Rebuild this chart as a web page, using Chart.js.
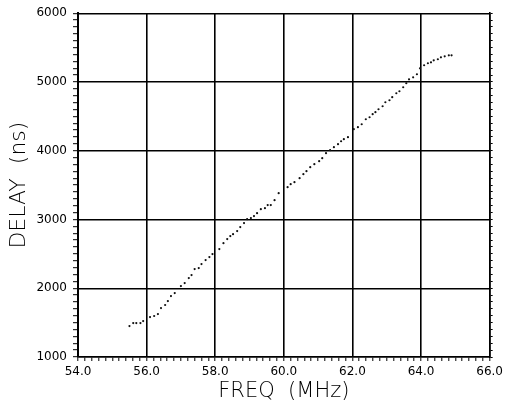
<!DOCTYPE html>
<html><head><meta charset="utf-8">
<script src="https://cdn.jsdelivr.net/npm/chart.js@4.4.0/dist/chart.umd.min.js"></script>
<style>html,body{margin:0;padding:0;background:#fff;}canvas{display:block;}</style>
</head><body>
<canvas id="c" width="507" height="406"></canvas>
<script>
const freqMHz = [55.50,55.61,55.70,55.82,55.90,56.10,56.22,56.33,56.42,56.54,56.62,56.71,56.82,57.00,57.11,57.23,57.31,57.40,57.52,57.60,57.72,57.83,57.92,58.12,58.24,58.35,58.44,58.52,58.64,58.73,58.84,58.93,59.04,59.13,59.22,59.33,59.45,59.53,59.62,59.73,59.85,60.11,60.20,60.31,60.46,60.57,60.66,60.77,60.89,61.03,61.12,61.23,61.35,61.46,61.58,61.67,61.75,61.87,62.04,62.16,62.27,62.39,62.50,62.59,62.67,62.76,62.88,62.96,63.08,63.16,63.28,63.37,63.48,63.57,63.65,63.77,63.88,63.97,64.09,64.20,64.29,64.37,64.49,64.58,64.69,64.81,64.89];
const delayNs = [1450,1494,1494,1494,1523,1581,1596,1625,1712,1756,1814,1886,1930,2032,2075,2148,2191,2279,2293,2351,2409,2453,2497,2569,2656,2715,2758,2787,2831,2889,2947,3005,3020,3049,3092,3150,3165,3209,3209,3281,3383,3470,3514,3543,3601,3659,3703,3761,3804,3848,3891,3964,4008,4051,4095,4138,4168,4197,4313,4342,4385,4458,4487,4531,4560,4603,4647,4705,4734,4778,4836,4865,4923,4981,5039,5068,5112,5199,5243,5272,5286,5315,5330,5359,5373,5388,5388];
const xTickLabels = ['54.0','56.0','58.0','60.0','62.0','64.0','66.0'];
const yTickLabels = ['1000','2000','3000','4000','5000','6000'];
const xTitle = 'FREQ  (MHz)';
const yTitle = 'DELAY  (ns)';

const points = freqMHz.map((f,i)=>({x:f,y:delayNs[i]}));
const tickFont = {family:'DejaVu Sans', size:12};
const xTitleFont = {family:'DejaVu Sans', size:21, weight:'200'};
const yTitleFont = {family:'DejaVu Sans', size:22, weight:'200'};

function xLabel(v){
  const s = (Math.round(v*10)/10).toFixed(1);
  return xTickLabels.includes(s) ? s : '';
}
function yLabel(v){
  const s = String(Math.round(v));
  return yTickLabels.includes(s) ? s : '';
}
function xMajor(ctx){ return ctx.tick && xLabel(ctx.tick.value) !== ''; }
function yMajor(ctx){ return ctx.tick && yLabel(ctx.tick.value) !== ''; }

new Chart(document.getElementById('c'), {
  type: 'scatter',
  data: { datasets: [{ data: points, pointRadius: 1.1, pointBorderWidth: 0, backgroundColor: '#111', showLine: false }] },
  options: {
    responsive: false, animation: false, devicePixelRatio: 1,
    layout: { padding: { top: 13, right: 0, left: 0, bottom: 0 } },
    plugins: { legend: { display: false }, tooltip: { enabled: false } },
    scales: {
      x: {
        type: 'linear', min: 54, max: 66,
        afterFit: s => { s.height = 49; },
        ticks: { stepSize: 0.2, autoSkip: false, maxRotation: 0, maxTicksLimit: 200, font: tickFont, color: '#000', padding: 4, callback: v => xLabel(v) },
        grid: { color: c => xMajor(c) ? '#000' : 'rgba(0,0,0,0)', lineWidth: 1.6, tickColor: '#000', tickLength: 4, tickWidth: 1 },
        border: { color: '#000', width: 1.6 },
        title: { display: true, text: xTitle, font: xTitleFont, color: '#000', padding: { top: 0, bottom: 2 } }
      },
      y: {
        type: 'linear', min: 1000, max: 6000,
        afterFit: s => { s.width = 78; },
        ticks: { stepSize: 100, autoSkip: false, maxTicksLimit: 200, font: tickFont, color: '#000', padding: 6, callback: v => yLabel(v) },
        grid: { color: c => yMajor(c) ? '#000' : 'rgba(0,0,0,0)', lineWidth: 1.4, tickColor: '#000', tickLength: 5, tickWidth: 1 },
        border: { color: '#000', width: 2 },
        title: { display: true, text: yTitle, font: yTitleFont, color: '#000', padding: { top: 6, bottom: 0 } }
      },
      y2: {
        type: 'linear', position: 'right', min: 1000, max: 6000,
        afterFit: s => { s.width = 13; },
        ticks: { stepSize: 100, autoSkip: false, maxTicksLimit: 200, padding: 0, callback: () => '' },
        grid: { drawOnChartArea: false, tickColor: '#000', tickLength: 3, tickWidth: 1 },
        border: { color: '#000', width: 1.6 }
      }
    }
  }
});
</script>
</body></html>
